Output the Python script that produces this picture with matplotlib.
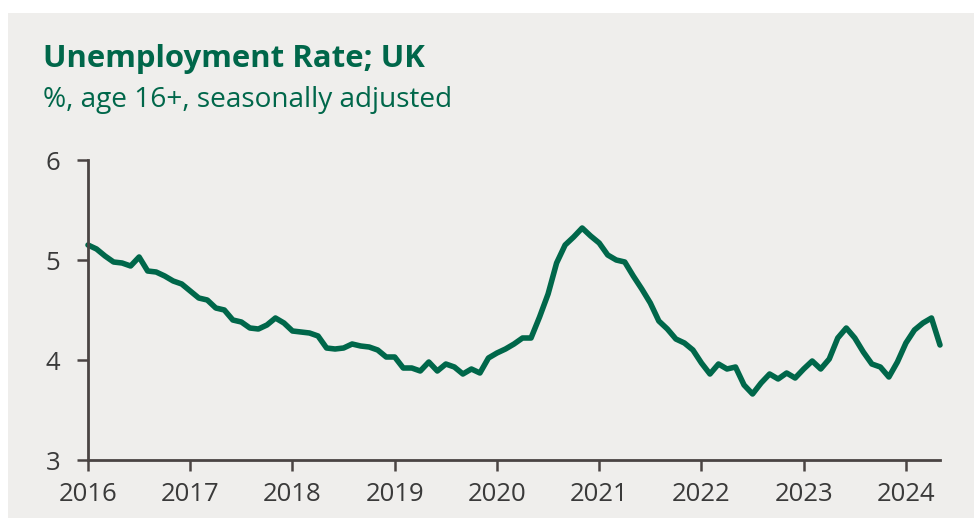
import matplotlib
matplotlib.use("Agg")
import matplotlib.pyplot as plt
import numpy as np
import pandas as pd

# Monthly UK unemployment rate (%), Jan 2016 onwards
start_month = "2016-01"
rate = [
    5.15, 5.11, 5.04, 4.98, 4.97, 4.94, 5.03, 4.89, 4.88, 4.84, 4.79, 4.76,
    4.69, 4.62, 4.60, 4.52, 4.50, 4.40, 4.38, 4.32, 4.31, 4.35, 4.42, 4.37,
    4.29, 4.28, 4.27, 4.24, 4.12, 4.11, 4.12, 4.16, 4.14, 4.13, 4.10, 4.03,
    4.03, 3.92, 3.92, 3.89, 3.98, 3.89, 3.96, 3.93, 3.86, 3.91, 3.87, 4.02,
    4.07, 4.11, 4.16, 4.22, 4.22, 4.43, 4.66, 4.97, 5.15, 5.23, 5.32, 5.24,
    5.17, 5.05, 5.00, 4.98, 4.84, 4.71, 4.57, 4.39, 4.31, 4.21, 4.17, 4.10,
    3.97, 3.86, 3.96, 3.91, 3.93, 3.75, 3.66, 3.77, 3.86, 3.81, 3.87, 3.82,
    3.91, 3.99, 3.91, 4.01, 4.22, 4.32, 4.22, 4.08, 3.96, 3.93, 3.83, 3.98,
    4.17, 4.30, 4.37, 4.42, 4.15,
]
year_ticks = list(range(2016, 2025))
y_ticks = [3, 4, 5, 6]

title = "Unemployment Rate; UK"
subtitle = "%, age 16+, seasonally adjusted"

GREEN = "#00674A"
AXIS = "#4A4443"
TEXT = "#3A3A3A"
PANEL = "#EFEEEC"
FONT = ["Open Sans", "DejaVu Sans"]

dates = pd.date_range(start_month, periods=len(rate), freq="MS")
x = dates.year + (dates.month - 1) / 12.0

fig = plt.figure(figsize=(9.74, 5.18), dpi=100)
fig.patch.set_facecolor("white")
fig.patches.append(plt.Rectangle((8 / 974, 0), 1, 1 - 13 / 518,
                                 transform=fig.transFigure,
                                 facecolor=PANEL, edgecolor="none", zorder=-10))

ax = fig.add_axes([88 / 974, 58 / 518, (940 - 88) / 974, 300 / 518])
ax.set_facecolor("none")
ax.plot(x, rate, color=GREEN, lw=4.0, solid_joinstyle="round",
        solid_capstyle="round", clip_on=False)

ax.set_xlim(2016, x[-1])
ax.set_ylim(3, 6)
ax.set_xticks(year_ticks)
ax.set_xticklabels([str(y) for y in year_ticks])
ax.set_yticks(y_ticks)
for side in ("top", "right"):
    ax.spines[side].set_visible(False)
for side in ("left", "bottom"):
    ax.spines[side].set_color(AXIS)
    ax.spines[side].set_linewidth(2.0)
ax.tick_params(axis="both", colors=AXIS, width=1.8, length=8,
               labelcolor=TEXT, labelsize=18.5)
ax.tick_params(axis="x", pad=8)
ax.tick_params(axis="y", pad=12)
for lab in ax.get_xticklabels() + ax.get_yticklabels():
    lab.set_family(FONT)

fig.text(43 / 974, 1 - 67 / 518, title, color=GREEN, fontsize=22.4,
         fontweight="bold", family=FONT, va="baseline")
fig.text(43 / 974, 1 - 107 / 518, subtitle, color=GREEN, fontsize=20.2,
         family=FONT, va="baseline")

fig.savefig("out.png", dpi=100, facecolor=fig.get_facecolor())
